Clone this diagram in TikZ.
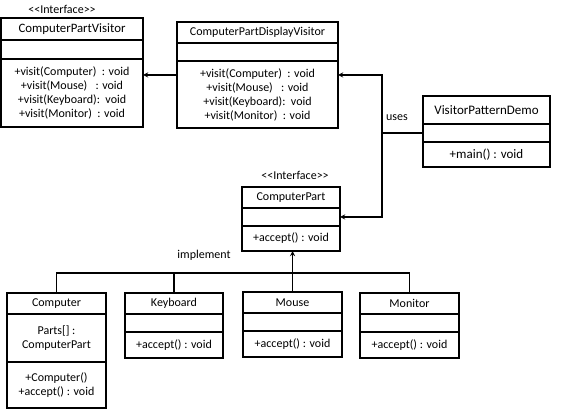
\documentclass[tikz,border=0pt]{standalone}
\usepackage{fontspec}
\setmainfont{Carlito}
\usetikzlibrary{positioning}
\tikzset{
	part/.style={
		draw=black,
		line width=1.3pt,
		anchor=north west,
		inner sep=0pt,
		outer sep=0pt,
		align=center,
		font=\fontsize{12}{14}\selectfont
	},
	note/.style={font=\fontsize{12}{14}\selectfont},
	link/.style={line width=1.3pt},
	arr/.style={-stealth,line width=1.3pt}
}

\begin{document}
\begin{tikzpicture}[x=1pt,y=-1pt]
\useasboundingbox (0,0) rectangle (568,419);

% ComputerPartVisitor
\node[note] (cpvTag) at (62,9) {<\kern0pt<Interface>\kern0pt>};
\node[part,minimum width=142pt,minimum height=22pt,font=\fontsize{12.8}{15}\selectfont] (cpvName) at (1,18) {ComputerPartVisitor};
\node[part,minimum width=142pt,minimum height=19pt] (cpvAttr) at (cpvName.south west) {};
\node[part,minimum width=142pt,minimum height=68pt] (cpvMeth) at (cpvAttr.south west)
	{+visit(Computer)\ \ : void\\+visit(Mouse)\ \ \ : void\\+visit(Keyboard):\ \ void\\+visit(Monitor)\ \ : void};

% ComputerPartDisplayVisitor
\node[part,minimum width=161pt,minimum height=21pt] (cpdvName) at (177,22) {ComputerPartDisplayVisitor};
\node[part,minimum width=161pt,minimum height=18pt] (cpdvAttr) at (cpdvName.south west) {};
\node[part,minimum width=161pt,minimum height=67pt] (cpdvMeth) at (cpdvAttr.south west)
	{+visit(Computer)\ \ : void\\+visit(Mouse)\ \ \ : void\\+visit(Keyboard):\ \ void\\+visit(Monitor)\ \ : void};

% VisitorPatternDemo
\node[part,minimum width=127pt,minimum height=28pt,font=\fontsize{13}{15}\selectfont] (vpdName) at (423,96) {VisitorPatternDemo};
\node[part,minimum width=127pt,minimum height=18pt] (vpdAttr) at (vpdName.south west) {};
\node[part,minimum width=127pt,minimum height=25pt,font=\fontsize{13}{15}\selectfont] (vpdMeth) at (vpdAttr.south west) {+main() : void};

% ComputerPart
\node[note] (cpTag) at (295,175) {<\kern0pt<Interface>\kern0pt>};
\node[part,minimum width=98pt,minimum height=21pt] (cpName) at (242,187) {ComputerPart};
\node[part,minimum width=98pt,minimum height=18pt] (cpAttr) at (cpName.south west) {};
\node[part,minimum width=98pt,minimum height=25pt] (cpMeth) at (cpAttr.south west) {+accept() : void};

% Computer
\node[part,minimum width=99pt,minimum height=21pt] (compName) at (7,293) {Computer};
\node[part,minimum width=99pt,minimum height=48pt] (compAttr) at (compName.south west) {Parts[] :\\ComputerPart};
\node[part,minimum width=99pt,minimum height=46pt] (compMeth) at (compAttr.south west) {+Computer()\\+accept() : void};

% Keyboard
\node[part,minimum width=98pt,minimum height=21pt] (kbName) at (125,293) {Keyboard};
\node[part,minimum width=98pt,minimum height=18pt] (kbAttr) at (kbName.south west) {};
\node[part,minimum width=98pt,minimum height=26pt] (kbMeth) at (kbAttr.south west) {+accept() : void};

% Mouse
\node[part,minimum width=99pt,minimum height=21pt] (msName) at (243,292) {Mouse};
\node[part,minimum width=99pt,minimum height=18pt] (msAttr) at (msName.south west) {};
\node[part,minimum width=99pt,minimum height=26pt] (msMeth) at (msAttr.south west) {+accept() : void};

% Monitor
\node[part,minimum width=99pt,minimum height=21pt] (monName) at (360,293) {Monitor};
\node[part,minimum width=99pt,minimum height=18pt] (monAttr) at (monName.south west) {};
\node[part,minimum width=99pt,minimum height=26pt] (monMeth) at (monAttr.south west) {+accept() : void};

% Display visitor to visitor interface
\draw[arr] ([yshift=19.5pt]cpdvMeth.west) -- ([yshift=19.5pt]cpdvMeth.west -| cpvMeth.east);

% Demo uses display visitor and computer part
\coordinate (uses) at (382,133);
\draw[link] (vpdAttr.west) -- (uses);
\draw[arr] (uses) |- ([yshift=19.5pt]cpdvMeth.east);
\draw[arr] (uses) |- (cpAttr.east);
\node[note] (usesLbl) at (397,118) {uses};

% Implement bus
\coordinate (bus) at (0,273);
\draw[link] (compName.north) -- (compName.north |- bus) -- (monName.north |- bus) -- (monName.north);
\draw[link] (kbName.north) -- (kbName.north |- bus);
\draw[arr] (msName.north) -- (msName.north |- cpMeth.south);
\node[note] (implLbl) at (204,255) {implement};

\end{tikzpicture}
\end{document}
